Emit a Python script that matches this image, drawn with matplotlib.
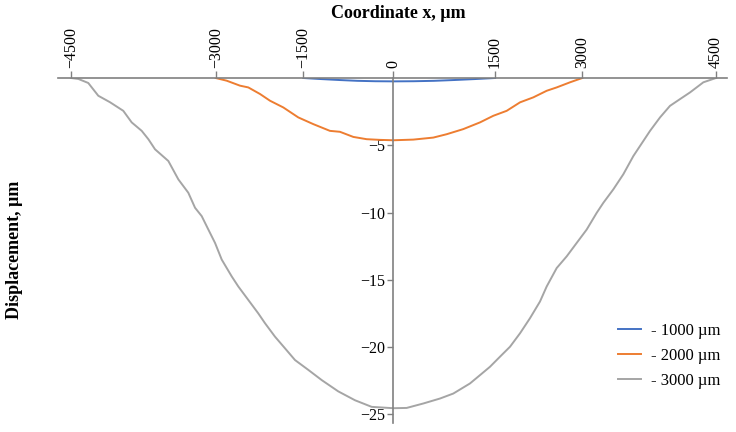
import numpy as np
import matplotlib
matplotlib.use('Agg')
import matplotlib.pyplot as plt

# data
x_1000 = [-1500, -1200, -900, -600, -300, 0, 300, 600, 900, 1200, 1500]
y_1000 = [0, -0.08, -0.15, -0.21, -0.24, -0.25, -0.24, -0.21, -0.15, -0.08, 0]

x_2000 = [-3000, -2812, -2584, -2442, -2241, -2070, -1842, -1586, -1333, -1056,
          -889, -667, -444, -222, 0, 295, 590, 787, 1032, 1279, 1475, 1701,
          1930, 2158, 2388, 2560, 2789, 3000]
y_2000 = [0, -0.2, -0.57, -0.7, -1.19, -1.69, -2.19, -2.93, -3.43, -3.93,
          -4.0, -4.38, -4.55, -4.6, -4.63, -4.58, -4.43, -4.18, -3.8, -3.3,
          -2.81, -2.44, -1.81, -1.44, -0.95, -0.7, -0.32, 0]

x_3000 = [-4500, -4424, -4321, -4217, -4096, -3958, -3871, -3767, -3698, -3629,
          -3491, -3387, -3284, -3214, -3145, -3076, -3007, -2897, -2726, -2613,
          -2442, -2271, -2156, -1985, -1813, -1642, -1417, -1193, -917, -638,
          -360, 0, 197, 442, 689, 885, 1131, 1279, 1426, 1586, 1758, 1930, 2101,
          2273, 2388, 2560, 2732, 2904, 3049, 3162, 3236, 3348, 3460, 3573, 3685,
          3760, 3872, 3984, 4096, 4209, 4358, 4500]
y_3000 = [0, -0.07, -0.37, -1.32, -1.8, -2.44, -3.3, -3.93, -4.55, -5.3,
          -6.17, -7.54, -8.53, -9.65, -10.27, -11.27, -12.26, -13.5, -14.75, -15.5,
          -16.5, -17.5, -18.23, -19.23, -20.1, -20.97, -21.7, -22.46, -23.3, -23.96,
          -24.45, -24.55, -24.53, -24.2, -23.83, -23.46, -22.71, -22.09, -21.47,
          -20.72, -19.98, -18.98, -17.86, -16.62, -15.5, -14.13, -13.26, -12.26,
          -11.27, -10.02, -9.28, -8.28, -7.16, -5.8, -4.68, -3.93, -2.93, -2.07,
          -1.57, -1.07, -0.32, 0]

x_ticks = [-4500, -3000, -1500, 0, 1500, 3000, 4500]
y_ticks = [-5, -10, -15, -20, -25]
labels = ['- 1000 µm', '- 2000 µm', '- 3000 µm']

# the original x axis is not evenly spaced -> piecewise linear scale
knot_val = [-4635, -4500, -3000, -1500, 0, 1500, 3000, 4500, 4623]
knot_pos = [58, 71, 215.7, 303.3, 393.3, 495, 582.3, 716, 727]

def fwd(v):
    return np.interp(v, knot_val, knot_pos)

def inv(p):
    return np.interp(p, knot_pos, knot_val)

plt.rcParams['font.family'] = ['Liberation Serif', 'DejaVu Serif']

fig = plt.figure(figsize=(7.36, 4.32), dpi=100)
ax = fig.add_axes([58 / 736, 1 - 423 / 432, 669 / 736, 345 / 432])
ax.set_xscale('function', functions=(fwd, inv))

ax.plot(x_1000, y_1000, color='#4472C4', lw=1.4, label=labels[0])
ax.plot(x_2000, y_2000, color='#ED7D31', lw=1.4, label=labels[1])
ax.plot(x_3000, y_3000, color='#A5A5A5', lw=1.4, label=labels[2])

ax.set_xlim(-4635, 4623)
ax.set_ylim(-25.65, 0)

axis_col = '#808080'
ax.spines['bottom'].set_visible(False)
ax.spines['right'].set_visible(False)
ax.spines['top'].set_color(axis_col)
ax.spines['top'].set_linewidth(1.2)
ax.spines['left'].set_position(('data', 0))
ax.spines['left'].set_color(axis_col)
ax.spines['left'].set_linewidth(1.2)

ax.xaxis.tick_top()
ax.set_xticks(x_ticks)
ax.set_xticklabels([f'{t}'.replace('-', '\u2212') for t in x_ticks], rotation=90, fontsize=11.5)
ax.tick_params(axis='x', which='both', direction='out', length=5, width=1, color=axis_col, pad=2)
ax.minorticks_off()
ax.set_yticks(y_ticks)
ax.set_yticklabels([f'{t}'.replace('-', '\u2212') for t in y_ticks], fontsize=11.5)
ax.tick_params(axis='y', direction='out', length=4, width=1, color=axis_col, pad=2)

fig.text(398 / 736, 1 - 14 / 432, 'Coordinate x, µm', ha='center', va='center',
         fontsize=13, fontweight='bold')
fig.text(15 / 736, 1 - 250 / 432, 'Displacement, µm', ha='center', va='center',
         rotation=90, fontsize=13, fontweight='bold')

ax.legend(loc='center left', bbox_to_anchor=(603 / 736, 1 - 356 / 432),
          bbox_transform=fig.transFigure, frameon=False, fontsize=12,
          handlelength=1.4, handletextpad=0.6, labelspacing=0.55)

fig.savefig('out.png', dpi=100)
